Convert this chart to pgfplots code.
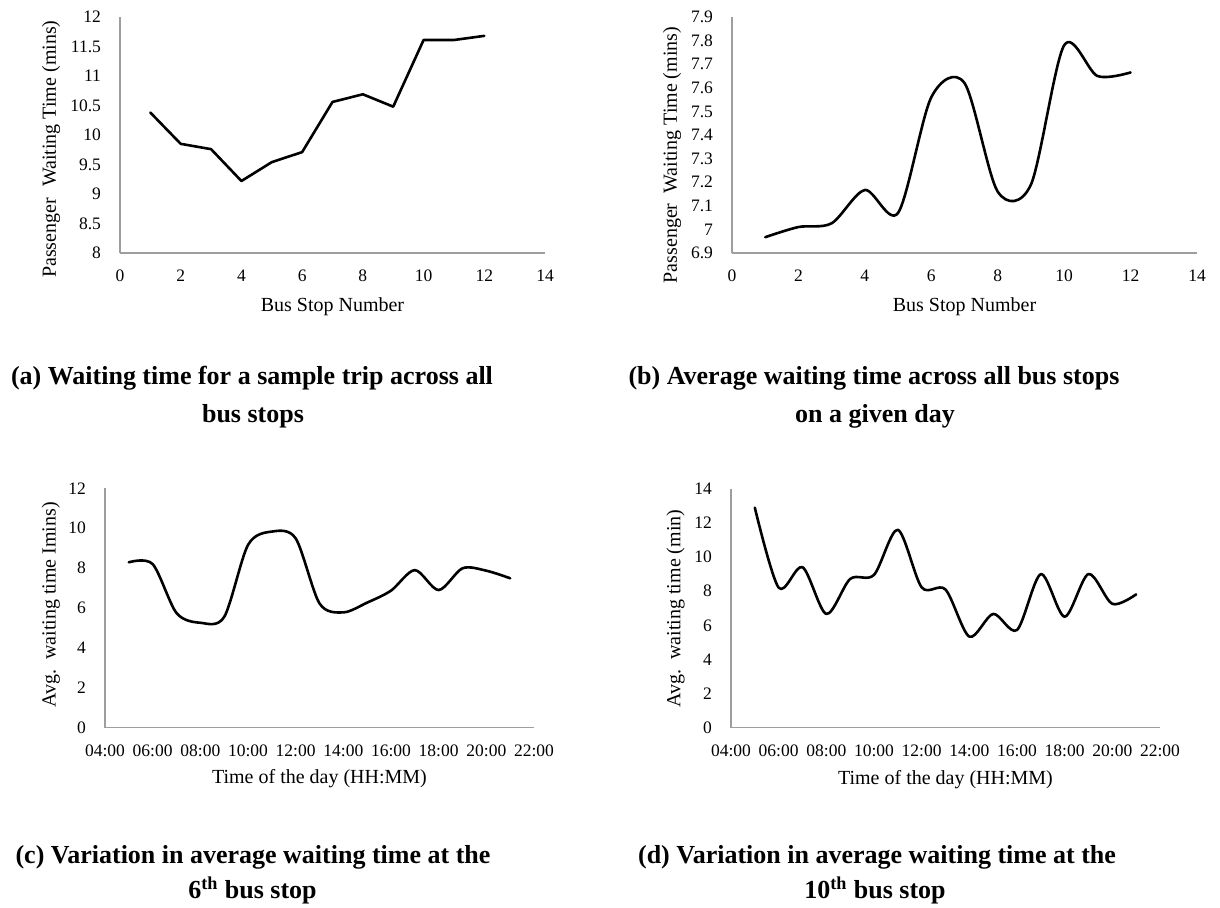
\documentclass[border=0pt]{standalone}
\usepackage{fontspec}
\setmainfont{Liberation Serif}
\usepackage{pgfplots}
\pgfplotsset{compat=1.18}
\definecolor{axgray}{gray}{0.62}
\pgfplotsset{
  myax/.style={
    scale only axis,
    anchor=south west,
    axis x line=bottom, axis y line=left,
    axis line style={draw=axgray, line width=0.7pt, -},
    major tick length=0pt,
    tick style={draw=none},
    /pgf/number format/assume math mode=true,
    ticklabel style={font=\fontsize{8.75}{10}\selectfont},
    xlabel style={font=\fontsize{10}{12}\selectfont},
    ylabel style={font=\fontsize{10}{12}\selectfont},
    yticklabel style={xshift=-6pt},
    xticklabel style={yshift=-5pt},
    clip=false,
  },
  ln/.style={black, line width=1.3pt, line join=round, line cap=round, mark=none},
}
\begin{document}
\begin{tikzpicture}
\path[use as bounding box] (0,0) rectangle (610pt,-454pt);

% (a)
\begin{axis}[myax,
  at={(60pt,-126.5pt)}, width=212.5pt, height=118pt,
  xmin=0, xmax=14, ymin=8, ymax=12,
  xtick={0,2,...,14}, ytick={8,8.5,9,9.5,10,10.5,11,11.5,12},
  xlabel={Bus Stop Number},
  ylabel={Passenger\hspace{0.55em}Waiting Time (mins)},
  xlabel style={at={(axis description cs:0.5,-0.246)}, anchor=base},
  ylabel style={at={(axis description cs:-0.162,0.44)}, anchor=center},
]
\addplot[ln] coordinates {(1,10.38)(2,9.85)(3,9.76)(4,9.22)(5,9.54)(6,9.71)(7,10.56)(8,10.69)(9,10.48)(10,11.61)(11,11.61)(12,11.68)};
\end{axis}

% (b)
\begin{axis}[myax,
  at={(366pt,-126.5pt)}, width=232.5pt, height=118pt,
  xmin=0, xmax=14, ymin=6.9, ymax=7.9,
  xtick={0,2,...,14}, ytick={6.9,7,7.1,7.2,7.3,7.4,7.5,7.6,7.7,7.8,7.9},
  yticklabels={6.9,7,7.1,7.2,7.3,7.4,7.5,7.6,7.7,7.8,7.9},
  xlabel={Bus Stop Number},
  ylabel={Passenger\ \ Waiting Time (mins)},
  xlabel style={at={(axis description cs:0.5,-0.246)}, anchor=base},
  ylabel style={at={(axis description cs:-0.129,0.415)}, anchor=center},
]
\addplot[ln, smooth] coordinates {(1,6.967)(2,7.01)(3,7.026)(4,7.167)(5,7.07)(6,7.56)(7,7.62)(8,7.16)(9,7.19)(10,7.78)(11,7.65)(12,7.665)};
\end{axis}

% (c)
\begin{axis}[myax,
  at={(52.5pt,-363.85pt)}, width=214.5pt, height=119.7pt,
  xmin=4, xmax=22, ymin=0, ymax=12,
  xtick={4,6,...,22}, xticklabels={04:00,06:00,08:00,10:00,12:00,14:00,16:00,18:00,20:00,22:00},
  ytick={0,2,...,12},
  xlabel={Time of the day (HH:MM)},
  ylabel={Avg.\ \ waiting time Imins)},
  xlabel style={at={(axis description cs:0.5,-0.235)}, anchor=base},
  ylabel style={at={(axis description cs:-0.126,0.513)}, anchor=center},
]
\addplot[ln, smooth] coordinates {(5,8.29)(6,8.2)(7,5.75)(8,5.26)(9,5.55)(10,9.16)(11,9.83)(12,9.49)(13,6.23)(14,5.78)(15,6.27)(16,6.87)(17,7.9)(18,6.9)(19,7.99)(20,7.87)(21,7.49)};
\end{axis}

% (d)
\begin{axis}[myax,
  at={(365.5pt,-363.85pt)}, width=214.5pt, height=119.4pt,
  xmin=4, xmax=22, ymin=0, ymax=14,
  xtick={4,6,...,22}, xticklabels={04:00,06:00,08:00,10:00,12:00,14:00,16:00,18:00,20:00,22:00},
  ytick={0,2,...,14},
  xlabel={Time of the day (HH:MM)},
  ylabel={Avg.\ \ waiting time (min)},
  xlabel style={at={(axis description cs:0.5,-0.236)}, anchor=base},
  ylabel style={at={(axis description cs:-0.129,0.499)}, anchor=center},
]
\addplot[ln, smooth] coordinates {(5,12.9)(6,8.21)(7,9.41)(8,6.67)(9,8.72)(10,8.96)(11,11.6)(12,8.23)(13,8.1)(14,5.34)(15,6.67)(16,5.73)(17,9.0)(18,6.51)(19,9.01)(20,7.26)(21,7.82)};
\end{axis}

% captions
\begin{scope}[every node/.style={font=\bfseries\fontsize{13}{15}\selectfont, anchor=base, inner sep=0pt}]
\node at (126pt,-192.5pt) {(a) Waiting time for a sample trip across all};
\node at (126.5pt,-211.5pt) {bus stops};
\node at (437pt,-192.5pt) {(b) Average waiting time across all bus stops};
\node at (437.5pt,-211.5pt) {on a given day};
\node at (126.5pt,-431.5pt) {(c) Variation in average waiting time at the};
\node at (126.25pt,-449pt) {6\textsuperscript{th} bus stop};
\node at (438.5pt,-431.5pt) {(d) Variation in average waiting time at the};
\node at (437.5pt,-449pt) {10\textsuperscript{th} bus stop};
\end{scope}
\end{tikzpicture}
\end{document}
